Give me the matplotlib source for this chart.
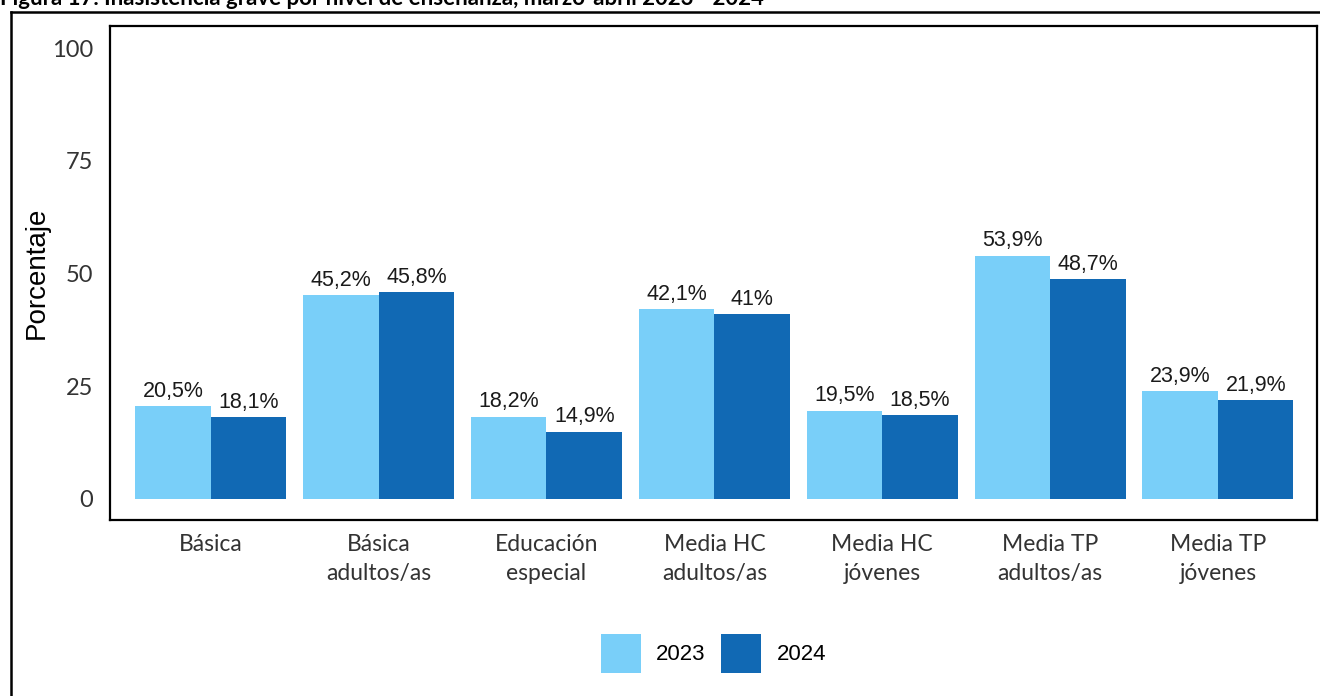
import matplotlib.pyplot as plt
import numpy as np
from matplotlib.lines import Line2D

# datos de la figura
categorias = ['Básica', 'Básica\nadultos/as', 'Educación\nespecial', 'Media HC\nadultos/as',
              'Media HC\njóvenes', 'Media TP\nadultos/as', 'Media TP\njóvenes']
v2023 = [20.5, 45.2, 18.2, 42.1, 19.5, 53.9, 23.9]
v2024 = [18.1, 45.8, 14.9, 41.0, 18.5, 48.7, 21.9]
etiquetas_2023 = ['20,5%', '45,2%', '18,2%', '42,1%', '19,5%', '53,9%', '23,9%']
etiquetas_2024 = ['18,1%', '45,8%', '14,9%', '41%', '18,5%', '48,7%', '21,9%']
anios = ['2023', '2024']

c_claro = '#79CFF9'
c_oscuro = '#1169B4'

fig = plt.figure(figsize=(13.2, 6.96), dpi=100)
ax = fig.add_axes([110 / 1320, 1 - 520 / 696, 1207 / 1320, 494 / 696])

x = np.arange(len(categorias))
w = 0.45
b1 = ax.bar(x - w / 2, v2023, w, color=c_claro, label=anios[0])
b2 = ax.bar(x + w / 2, v2024, w, color=c_oscuro, label=anios[1])

for barras, etq in [(b1, etiquetas_2023), (b2, etiquetas_2024)]:
    for b, t in zip(barras, etq):
        ax.text(b.get_x() + b.get_width() / 2, b.get_height() + 1.0, t,
                ha='center', va='bottom', fontsize=15.5, family='Liberation Sans', color='#1a1a1a')

ax.set_xlim(-0.6, 6.59)
ax.set_ylim(-4.7, 104.9)
ax.set_yticks([0, 25, 50, 75, 100])
ax.set_xticks(x)
ax.set_xticklabels(categorias, fontsize=16.5, family='Lato', color='#333333', linespacing=1.45)
ax.tick_params(axis='y', labelsize=17, length=0, pad=12, labelcolor='#333333')
ax.tick_params(axis='x', length=0, pad=10)
for lab in ax.get_yticklabels():
    lab.set_family('Lato')
for s in ax.spines.values():
    s.set_linewidth(1.6)
ax.set_ylabel('Porcentaje', fontsize=20, family='Liberation Sans', labelpad=2)

ax.legend(loc='center', bbox_to_anchor=(0.5, -0.27), ncol=2, frameon=False,
          prop={'family': 'Liberation Sans', 'size': 16},
          handlelength=1.8, handleheight=2.35, handletextpad=0.7, columnspacing=0.7)

# marco exterior y título recortado
fig.add_artist(Line2D([11 / 1320, 11 / 1320], [0, 1 - 12 / 696], color='black', lw=1.8))
fig.add_artist(Line2D([11 / 1320, 1], [1 - 12 / 696, 1 - 12 / 696], color='black', lw=1.8))
fig.text(0.0, 1 - 5 / 696, 'Figura 17. Inasistencia grave por nivel de enseñanza, marzo-abril 2023 - 2024',
         fontsize=16, fontweight='bold', family='Lato', va='baseline', ha='left')

fig.savefig('out.png', dpi=100)
